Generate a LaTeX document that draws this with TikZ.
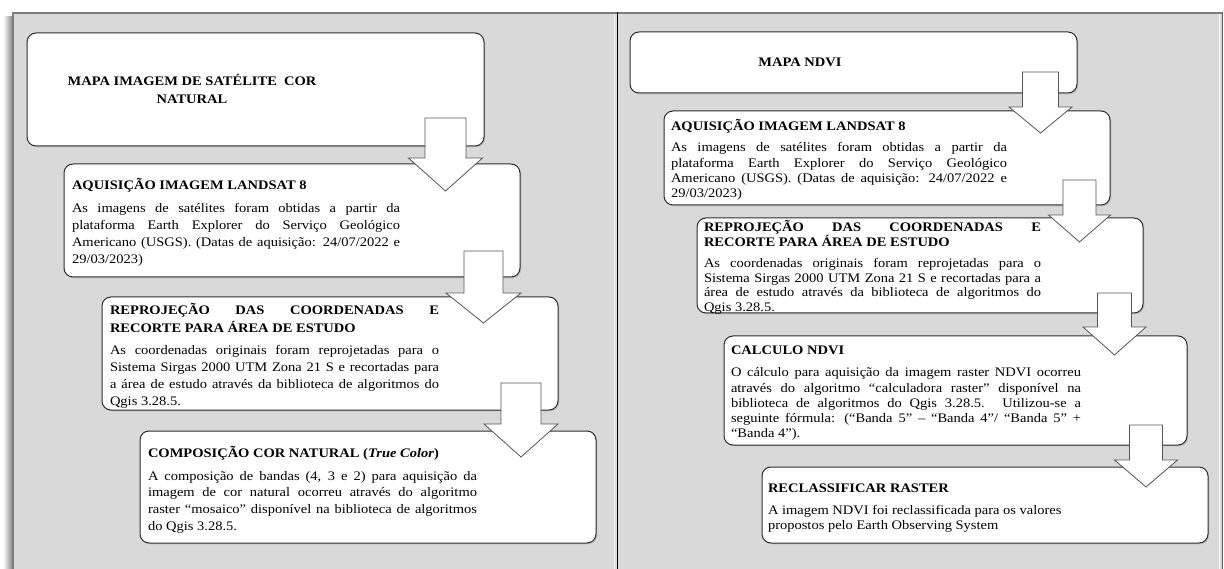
\documentclass[tikz,border=0pt]{standalone}
\usepackage{fontspec}
\setmainfont{Liberation Serif}
\usepackage{graphicx}
\usetikzlibrary{shadows}
\definecolor{panelbg}{RGB}{217,217,217}
\definecolor{panelline}{RGB}{125,125,125}
\definecolor{boxline}{RGB}{45,45,45}
\definecolor{arrowline}{RGB}{85,85,85}
\newcommand{\sqtext}[3]{\scalebox{1}[0.9]{\parbox[t]{#1}{\setlength{\parindent}{0pt}\tolerance=10000\hyphenpenalty=10000\fontsize{14.5}{#2}\selectfont #3}}}
\newcommand{\blockarrow}[6]{%
  \draw[arrowstyle] ({#1-#2},#4) -- ({#1+#2},#4) -- ({#1+#2},#5) -- ({#1+#3},#5)
    -- (#1,#6) -- ({#1-#3},#5) -- ({#1-#2},#5) -- cycle;}
\begin{document}
\begin{tikzpicture}[x=1pt,y=-1pt,
  box/.style={draw=boxline, line width=1pt, rounded corners=9pt, fill=white,
    anchor=north west, inner sep=0pt, outer sep=0pt,
    drop shadow={shadow xshift=1.3pt, shadow yshift=-1.3pt, opacity=0.3}},
  txt/.style={anchor=base west, inner sep=0pt, outer sep=0pt},
  ctxt/.style={anchor=base, inner sep=0pt, outer sep=0pt},
  arrowstyle/.style={draw=arrowline, line width=0.8pt, fill=white, line join=miter}]
\useasboundingbox (0,0) rectangle (1224,569);
\fill[white] (0,0) rectangle (1224,569);
% panels
\fill[panelbg] (12,12) rectangle (1222,569);
\shade[left color=white, right color=black!45] (3,17) rectangle (12,569);
\draw[white!85!panelbg, line width=1pt] (614.5,14) -- (614.5,569);
\draw[white!85!panelbg, line width=1pt] (1219.5,14) -- (1219.5,569);
\draw[panelline, line width=2pt] (12,13) -- (1223,13);
\draw[panelline, line width=1.5pt] (12.75,12) -- (12.75,569);
\draw[black, line width=1pt] (617,12) -- (617,569);
\draw[black!65, line width=1.5pt] (1222.5,12) -- (1222.5,569);

% ---------- left column boxes
\node[box, minimum width=457pt, minimum height=113pt] (L1) at (27,33) {};
\node[box, minimum width=456pt, minimum height=113pt] (L2) at (64,164) {};
\node[box, minimum width=456pt, minimum height=113pt] (L3) at (102,297) {};
\node[box, minimum width=456pt, minimum height=112pt] (L4) at (140,431) {};
% ---------- right column boxes
\node[box, minimum width=447pt, minimum height=61pt] (R1) at (630,32) {};
\node[box, minimum width=446pt, minimum height=94pt] (R2) at (664,111) {};
\node[box, minimum width=446pt, minimum height=95pt] (R3) at (697,218) {};
\node[box, minimum width=463pt, minimum height=109pt] (R4) at (724,336) {};
\node[box, minimum width=446pt, minimum height=76pt] (R5) at (762,467) {};

% ---------- left texts
\node[ctxt] (L1t) at (192,86) {\sqtext{300pt}{18.9}{\centering\bfseries MAPA IMAGEM DE SATÉLITE\enspace COR\\NATURAL}};

\node[txt] (L2t) at (72,190) {\sqtext{328pt}{18.9}{\bfseries AQUISIÇÃO IMAGEM LANDSAT 8}};
\node[txt] (L2b) at (72,213) {\sqtext{328pt}{18.7}{As imagens de satélites foram obtidas a partir da\linebreak plataforma Earth Explorer do Serviço Geológico\linebreak Americano (USGS). (Datas de aquisição: 24/07/2022 e\linebreak 29/03/2023)}};

\node[txt] (L3t) at (110,315) {\sqtext{329pt}{18.9}{\bfseries REPROJEÇÃO DAS COORDENADAS E\linebreak RECORTE PARA ÁREA DE ESTUDO}};
\node[txt] (L3b) at (110,355) {\sqtext{329pt}{18.6}{As coordenadas originais foram reprojetadas para o\linebreak Sistema Sirgas 2000 UTM Zona 21 S e recortadas para\linebreak a área de estudo através da biblioteca de algoritmos do\linebreak Qgis 3.28.5.}};

\node[txt] (L4t) at (148,457) {\sqtext{329pt}{18.9}{\bfseries COMPOSIÇÃO COR NATURAL (\textit{True Color})}};
\node[txt] (L4b) at (148,480) {\sqtext{329pt}{18.6}{A composição de bandas (4, 3 e 2) para aquisição da\linebreak imagem de cor natural ocorreu através do algoritmo\linebreak raster “mosaico” disponível na biblioteca de algoritmos\linebreak do Qgis 3.28.5.}};

% ---------- right texts
\node[ctxt] (R1t) at (800,67) {\sqtext{200pt}{16.7}{\centering\bfseries MAPA NDVI}};

\node[txt] (R2t) at (671,131) {\sqtext{336pt}{16.7}{\bfseries AQUISIÇÃO IMAGEM LANDSAT 8}};
\node[txt] (R2b) at (671,152) {\sqtext{336pt}{17.0}{As imagens de satélites foram obtidas a partir da\linebreak plataforma Earth Explorer do Serviço Geológico\linebreak Americano (USGS). (Datas de aquisição: 24/07/2022 e\linebreak 29/03/2023)}};

\node[txt] (R3t) at (704,232) {\sqtext{337pt}{15.6}{\bfseries REPROJEÇÃO DAS COORDENADAS E\linebreak RECORTE PARA ÁREA DE ESTUDO}};
\node[txt] (R3b) at (704,268) {\sqtext{337pt}{16.0}{As coordenadas originais foram reprojetadas para o\linebreak Sistema Sirgas 2000 UTM Zona 21 S e recortadas para a\linebreak área de estudo através da biblioteca de algoritmos do\linebreak Qgis 3.28.5.}};

\node[txt] (R4t) at (731,355) {\sqtext{350pt}{16.7}{\bfseries CALCULO NDVI}};
\node[txt] (R4b) at (731,377) {\sqtext{350pt}{16.7}{O cálculo para aquisição da imagem raster NDVI ocorreu\linebreak através do algoritmo “calculadora raster” disponível na\linebreak biblioteca de algoritmos do Qgis 3.28.5. Utilizou-se a\linebreak seguinte fórmula: (“Banda 5” – “Banda 4”/ “Banda 5” +\linebreak “Banda 4”).}};

\node[txt] (R5t) at (768,492) {\sqtext{400pt}{16.7}{\bfseries RECLASSIFICAR RASTER}};
\node[txt] (R5b) at (768,514) {\sqtext{400pt}{16.7}{\raggedright A imagem NDVI foi reclassificada para os valores\\propostos pelo Earth Observing System}};

% ---------- block arrows (cx, shaft half, head half, top, base, tip)
\blockarrow{445.5}{20.5}{37}{118}{158}{191}
\blockarrow{483.5}{19.5}{37.5}{251}{293}{323}
\blockarrow{521}{20}{37}{383}{424}{457}
\blockarrow{1040.5}{18}{31.5}{72}{107}{133}
\blockarrow{1079.5}{16.5}{31}{180}{215}{242}
\blockarrow{1114.5}{17}{31.5}{293}{327}{355}
\blockarrow{1146}{16.5}{31.5}{425}{460}{487}
\end{tikzpicture}
\end{document}
